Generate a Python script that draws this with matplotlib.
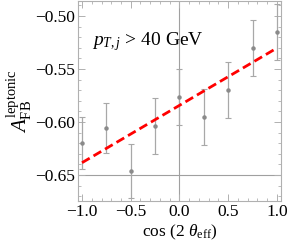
import matplotlib
matplotlib.use("Agg")
import matplotlib.pyplot as plt
from matplotlib.ticker import MultipleLocator, FuncFormatter

plt.rcParams['font.family'] = ['Liberation Serif', 'DejaVu Serif']
plt.rcParams['mathtext.fontset'] = 'custom'
plt.rcParams['mathtext.rm'] = 'Liberation Serif'
plt.rcParams['mathtext.it'] = 'Liberation Serif:italic'

# data
cos2theta = [-1.0, -0.75, -0.5, -0.25, 0.0, 0.25, 0.5, 0.75, 1.0]
afb = [-0.6195, -0.6059, -0.6462, -0.6038, -0.5764, -0.5953, -0.5698, -0.5302, -0.5150]
afb_err = [0.0245, 0.0236, 0.0255, 0.0264, 0.0266, 0.0268, 0.0260, 0.0268, 0.0268]
fit_x = [-1.0, 1.0]
fit_y = [-0.6384, -0.5302]

fig = plt.figure(figsize=(2.89, 2.49), dpi=100)
ax = fig.add_axes([0.27, 0.193, 0.702, 0.803])

ax.axhline(-0.65, color='#a0a0a0', lw=0.8, zorder=1)
ax.axvline(0.0, color='#a0a0a0', lw=0.8, zorder=1)

ax.errorbar(cos2theta, afb, yerr=afb_err, fmt='o', ms=2.2, color='#8a8a8a',
            ecolor='#a8a8a8', elinewidth=0.9, capsize=2, capthick=0.8, zorder=2)
ax.plot(fit_x, fit_y, color='#ff0000', ls=(0, (3.2, 1.6)), lw=2.0, zorder=3)

ax.set_xlim(-1.041, 1.041)
ax.set_ylim(-0.6745, -0.4858)

ax.xaxis.set_major_locator(MultipleLocator(0.5))
ax.xaxis.set_minor_locator(MultipleLocator(0.1))
ax.yaxis.set_major_locator(MultipleLocator(0.05))
ax.yaxis.set_minor_locator(MultipleLocator(0.01))
ax.xaxis.set_major_formatter(FuncFormatter(lambda v, p: f"{v:.1f}".replace('-', '\u2212')))
ax.yaxis.set_major_formatter(FuncFormatter(lambda v, p: f"{v:.2f}".replace('-', '\u2212')))

for s in ax.spines.values():
    s.set_color('#b0b0b0')
    s.set_linewidth(0.8)
ax.tick_params(which='both', direction='in', top=True, right=True, color='#b0b0b0',
               labelsize=12.5, pad=2)
ax.tick_params(which='major', length=5, width=0.7)
ax.tick_params(which='minor', length=2.5, width=0.6)

ax.text(0.069, 0.795, r'$p_{T,j}$ > 40 GeV', transform=ax.transAxes,
        fontsize=14, va='center', ha='left')

ax.set_xlabel(r'cos (2 $\theta_{\rm eff}$)', fontsize=12.5, labelpad=2)
ax.set_ylabel(r'$A_{\rm FB}^{\mathrm{leptonic}}$', fontsize=15, labelpad=0)

fig.savefig('out.png', dpi=100)
